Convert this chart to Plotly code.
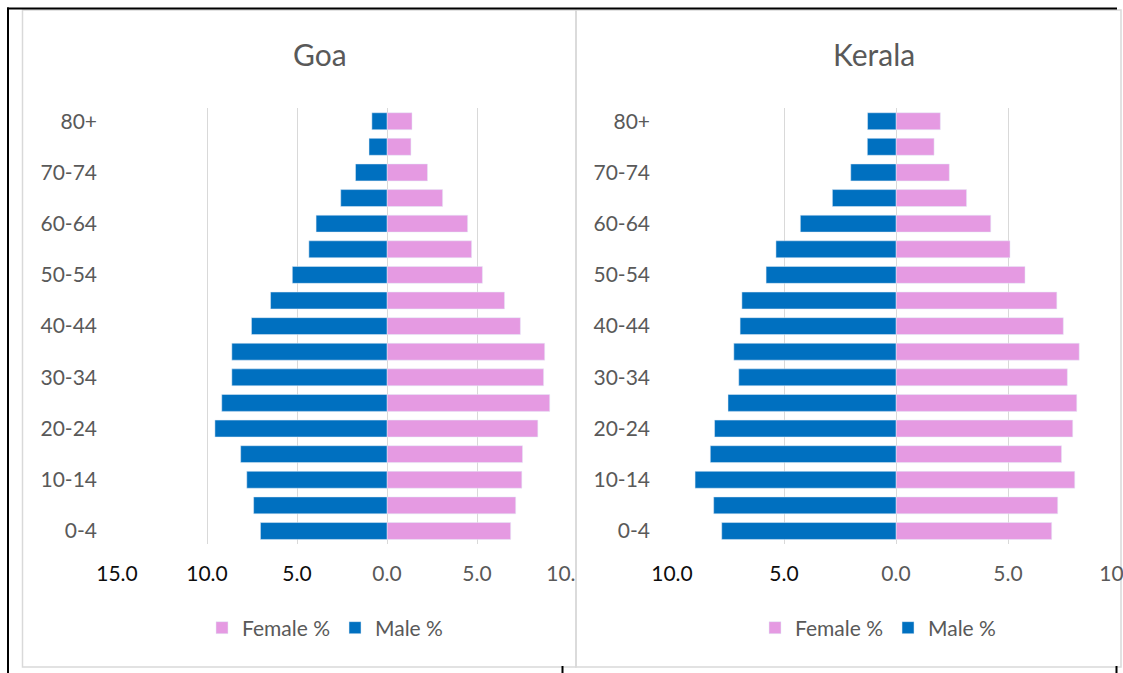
import plotly.graph_objects as go

age_groups = ["0-4", "5-9", "10-14", "15-19", "20-24", "25-29", "30-34", "35-39",
              "40-44", "45-49", "50-54", "55-59", "60-64", "65-69", "70-74", "75-79", "80+"]
shown_age_ticks = ["0-4", "10-14", "20-24", "30-34", "40-44", "50-54", "60-64", "70-74", "80+"]

goa_male = [7.03, 7.41, 7.79, 8.13, 9.56, 9.18, 8.62, 8.62, 7.53, 6.47, 5.26, 4.34, 3.94, 2.57, 1.75, 1.00, 0.84]
goa_female = [6.87, 7.15, 7.49, 7.53, 8.38, 9.04, 8.70, 8.76, 7.41, 6.53, 5.30, 4.70, 4.48, 3.09, 2.25, 1.33, 1.39]
kerala_male = [7.78, 8.14, 8.97, 8.29, 8.10, 7.50, 7.02, 7.24, 6.96, 6.88, 5.80, 5.36, 4.27, 2.84, 2.02, 1.28, 1.27]
kerala_female = [6.95, 7.22, 7.98, 7.39, 7.89, 8.07, 7.65, 8.18, 7.47, 7.18, 5.76, 5.09, 4.23, 3.15, 2.38, 1.70, 1.98]

goa_xticks = [-15, -10, -5, 0, 5, 10]
goa_xticklabels = ["15.0", "10.0", "5.0", "0.0", "5.0", "10.0"]
kerala_xticks = [-10, -5, 0, 5, 10]
kerala_xticklabels = ["10.0", "5.0", "0.0", "5.0", "10.0"]

MALE = "#0070C0"
FEMALE = "#E59AE2"
GRAY = "#595959"
GRID = "#D9D9D9"
FONT = "Lato"
W, H = 1123, 673


def tick_text(vals, labels, clip_last=False):
    out = []
    for i, (v, lab) in enumerate(zip(vals, labels)):
        if v < 0:
            out.append('<span style="color:#0D0D0D">%s</span>' % lab)
        elif clip_last and i == len(labels) - 1:
            out.append('%s<span style="color:rgba(0,0,0,0)">%s</span>' % (lab[:-1], lab[-1]))
        else:
            out.append(lab)
    return out


fig = go.Figure()

fig.add_trace(go.Bar(y=age_groups, x=goa_female, orientation="h", name="Female %",
                     marker_color=FEMALE, xaxis="x", yaxis="y", legend="legend"))
fig.add_trace(go.Bar(y=age_groups, x=[-v for v in goa_male], orientation="h", name="Male %",
                     marker_color=MALE, xaxis="x", yaxis="y", legend="legend",
                     customdata=goa_male, hovertemplate="%{customdata}"))
fig.add_trace(go.Bar(y=age_groups, x=kerala_female, orientation="h", name="Female %",
                     marker_color=FEMALE, xaxis="x2", yaxis="y2", legend="legend2"))
fig.add_trace(go.Bar(y=age_groups, x=[-v for v in kerala_male], orientation="h", name="Male %",
                     marker_color=MALE, xaxis="x2", yaxis="y2", legend="legend2",
                     customdata=kerala_male, hovertemplate="%{customdata}"))

ydom = [1 - 543.8 / H, 1 - 108.4 / H]

xcommon = dict(showgrid=True, gridcolor=GRID, gridwidth=1, zeroline=True, zerolinecolor=GRID,
               zerolinewidth=1, showline=False, ticks="", tickfont=dict(family=FONT, size=21, color=GRAY),
               ticklabeloverflow="allow", ticklabelstandoff=15, fixedrange=True, automargin=False)
ycommon = dict(type="category", categoryorder="array", categoryarray=age_groups,
               tickmode="array", tickvals=shown_age_ticks, ticktext=shown_age_ticks,
               showgrid=False, zeroline=False, showline=False, ticks="", automargin=False,
               tickfont=dict(family=FONT, size=21, color=GRAY), fixedrange=True)

legend_common = dict(orientation="h", y=1 - 628 / H, xanchor="center", yanchor="middle",
                     font=dict(family=FONT, size=21, color=GRAY), itemwidth=30,
                     traceorder="normal", bgcolor="rgba(0,0,0,0)")

fig.update_layout(
    width=W, height=H, autosize=False,
    margin=dict(l=0, r=0, t=0, b=0, pad=0, autoexpand=False),
    paper_bgcolor="white", plot_bgcolor="white",
    barmode="overlay", bargap=0.34,
    font=dict(family=FONT, color=GRAY),
    xaxis=dict(domain=[117 / W, 567 / W], range=[-15, 10], anchor="y",
               tickvals=goa_xticks, ticktext=tick_text(goa_xticks, goa_xticklabels, clip_last=True),
               **xcommon),
    yaxis=dict(domain=ydom, anchor="x", ticklabelstandoff=19, **ycommon),
    xaxis2=dict(domain=[672 / W, 1120 / W], range=[-10, 10], anchor="y2",
                tickvals=kerala_xticks, ticktext=tick_text(kerala_xticks, kerala_xticklabels),
                **xcommon),
    yaxis2=dict(domain=ydom, anchor="x2", ticklabelstandoff=21, **ycommon),
    legend=dict(x=325 / W, **legend_common),
    legend2=dict(x=878 / W, **legend_common),
    showlegend=True,
    annotations=[
        dict(text="Goa", x=320 / W, y=1 - 54 / H, xref="paper", yref="paper", showarrow=False,
             xanchor="center", yanchor="middle", font=dict(family=FONT, size=30, color=GRAY)),
        dict(text="Kerala", x=874 / W, y=1 - 54 / H, xref="paper", yref="paper", showarrow=False,
             xanchor="center", yanchor="middle", font=dict(family=FONT, size=30, color=GRAY)),
    ],
    shapes=[
        dict(type="rect", xref="paper", yref="paper", x0=22.5 / W, x1=576 / W,
             y0=1 - 667 / H, y1=1 - 10 / H, line=dict(color=GRID, width=1.5), layer="below"),
        dict(type="rect", xref="paper", yref="paper", x0=576 / W, x1=1121 / W,
             y0=1 - 667 / H, y1=1 - 10 / H, line=dict(color=GRID, width=1.5), layer="below"),
        dict(type="line", xref="paper", yref="paper", x0=7 / W, x1=1117 / W,
             y0=1 - 8.5 / H, y1=1 - 8.5 / H, line=dict(color="black", width=2)),
        dict(type="line", xref="paper", yref="paper", x0=8 / W, x1=8 / W,
             y0=0, y1=1 - 7.5 / H, line=dict(color="black", width=2)),
        dict(type="line", xref="paper", yref="paper", x0=562.5 / W, x1=562.5 / W,
             y0=0, y1=1 - 666 / H, line=dict(color="black", width=2)),
        dict(type="line", xref="paper", yref="paper", x0=1116.5 / W, x1=1116.5 / W,
             y0=0, y1=1 - 666 / H, line=dict(color="black", width=2)),
    ],
)

fig.write_html("out.html")
